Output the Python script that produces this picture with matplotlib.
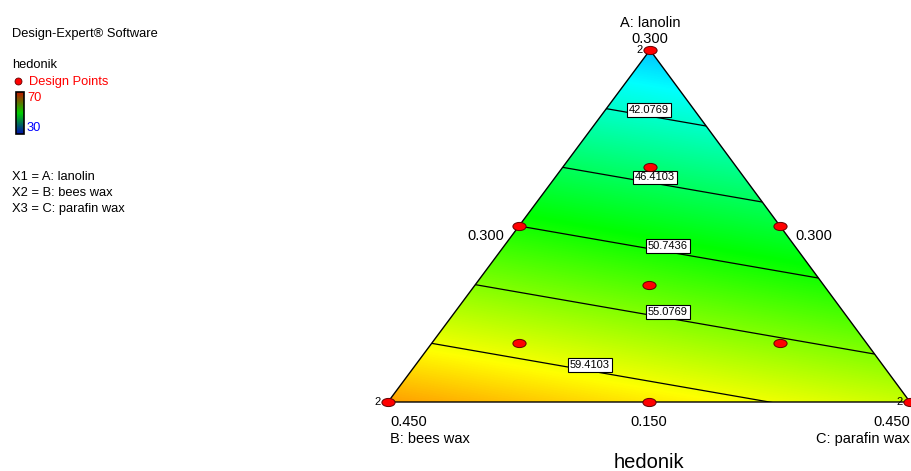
import numpy as np
import matplotlib
matplotlib.use("Agg")
import matplotlib.pyplot as plt
from matplotlib.colors import LinearSegmentedColormap
from matplotlib.patches import Polygon
from matplotlib.path import Path
from matplotlib.transforms import Affine2D

plt.rcParams['font.family'] = ['Liberation Sans', 'DejaVu Sans']

# ---- mixture design: components, bounds and labels ----
component_names = ["A: lanolin", "B: bees wax", "C: parafin wax"]
lower_bounds = [0.0, 0.15, 0.15]
mix_range = 0.30
vertex_values = ["0.300", "0.450", "0.450"]
edge_values = ["0.300", "0.300", "0.150"]          # A-B edge, A-C edge, B-C edge

# ---- fitted linear (Scheffe) model for hedonik, pseudo-component scale ----
model_coef = [37.7436, 63.7436, 57.81]
contour_levels = [42.0769, 46.4103, 50.7436, 55.0769, 59.4103]
color_min, color_max = 30, 70

# ---- design points (actual amounts) ----
design_A = [0.30, 0.00, 0.00, 0.15, 0.15, 0.00, 0.10, 0.20, 0.05, 0.05]
design_B = [0.15, 0.45, 0.15, 0.30, 0.15, 0.30, 0.25, 0.20, 0.35, 0.20]
design_C = [0.15, 0.15, 0.45, 0.15, 0.30, 0.30, 0.25, 0.20, 0.20, 0.35]
design_reps = [2, 2, 2, 1, 1, 1, 1, 1, 1, 1]

# ---- figure in pixel coordinates ----
W, H = 912, 471
fig = plt.figure(figsize=(W / 100, H / 100), dpi=100)
ax = fig.add_axes([0, 0, 1, 1])

# triangle corners: A (top), B (bottom-left), C (bottom-right)
corners = np.array([[650.0, 50.0], [388.0, 402.0], [910.0, 402.0]])

def pseudo(A, B, C):
    A, B, C = (np.asarray(v, float) for v in (A, B, C))
    return ((A - lower_bounds[0]) / mix_range,
            (B - lower_bounds[1]) / mix_range,
            (C - lower_bounds[2]) / mix_range)

def to_xy(a, b, c):
    x = a * corners[0, 0] + b * corners[1, 0] + c * corners[2, 0]
    y = a * corners[0, 1] + b * corners[1, 1] + c * corners[2, 1]
    return x, y

T = np.array([[corners[0, 0] - corners[2, 0], corners[1, 0] - corners[2, 0]],
              [corners[0, 1] - corners[2, 1], corners[1, 1] - corners[2, 1]]])
Tinv = np.linalg.inv(T)

def to_bary(x, y):
    dx = x - corners[2, 0]
    dy = y - corners[2, 1]
    a = Tinv[0, 0] * dx + Tinv[0, 1] * dy
    b = Tinv[1, 0] * dx + Tinv[1, 1] * dy
    return a, b, 1 - a - b

def model(a, b, c):
    return model_coef[0] * a + model_coef[1] * b + model_coef[2] * c

cmap = LinearSegmentedColormap.from_list(
    "de", ["#0000ff", "#00ffff", "#00ff00", "#ffff00", "#ff0000"])
legend_cmap = LinearSegmentedColormap.from_list(
    "de_key", ["#0010b0", "#00d000", "#c01800"])

# ---- response surface ----
xs = np.linspace(384, 914, 900)
ys = np.linspace(46, 406, 620)
X, Y = np.meshgrid(xs, ys)
Z = model(*to_bary(X, Y))

tri_patch = Polygon(corners, closed=True, transform=ax.transData)
im = ax.imshow(Z, extent=(xs[0], xs[-1], ys[0], ys[-1]), origin='lower',
               cmap=cmap, vmin=color_min, vmax=color_max,
               interpolation='bilinear', aspect='auto', zorder=1)
im.set_clip_path(tri_patch)

cs = ax.contour(X, Y, Z, levels=contour_levels, colors='k', linewidths=0.9, zorder=2)
cs.set_clip_path(tri_patch)

ax.add_patch(Polygon(corners, closed=True, fill=False, edgecolor='k', lw=1.0, zorder=3))

# contour labels, placed along each line
label_x = [649, 655, 668, 668, 590]
coef_x = (model(*to_bary(1.0, 0.0)) - model(*to_bary(0.0, 0.0)))
coef_y = (model(*to_bary(0.0, 1.0)) - model(*to_bary(0.0, 0.0)))
z0 = model(*to_bary(0.0, 0.0))
for lev, lx in zip(contour_levels, label_x):
    ly = (lev - z0 - coef_x * lx) / coef_y
    ax.text(lx, ly - 6, f"{lev:.4f}", fontsize=8, ha='center', va='center', zorder=5,
            bbox=dict(boxstyle='square,pad=0.15', fc='white', ec='black', lw=0.8))

# ---- design points ----
ell = Path.unit_circle().transformed(Affine2D().scale(1.0, 0.62))
pa, pb, pc = pseudo(design_A, design_B, design_C)
px, py = to_xy(pa, pb, pc)
ax.plot(px, py, linestyle='none', marker=ell, markersize=9.5,
        markerfacecolor='#ff0000', markeredgecolor='#600000',
        markeredgewidth=0.7, zorder=6, clip_on=False)
for x, y, r in zip(px, py, design_reps):
    if r > 1:
        ax.text(x - 7, y, str(r), fontsize=8, ha='right', va='center', zorder=7)

# ---- axis labels ----
ax.text(corners[0, 0], corners[0, 1] - 27, component_names[0], fontsize=10.5,
        ha='center', va='center')
ax.text(corners[0, 0], corners[0, 1] - 11, vertex_values[0], fontsize=10.5,
        ha='center', va='center')
ax.text(corners[1, 0] + 2, corners[1, 1] + 20, vertex_values[1], fontsize=10.5,
        ha='left', va='center')
ax.text(corners[1, 0] + 2, corners[1, 1] + 37, component_names[1], fontsize=10.5,
        ha='left', va='center')
ax.text(corners[2, 0], corners[2, 1] + 20, vertex_values[2], fontsize=10.5,
        ha='right', va='center')
ax.text(corners[2, 0], corners[2, 1] + 37, component_names[2], fontsize=10.5,
        ha='right', va='center')

mid_ab = (corners[0] + corners[1]) / 2
mid_ac = (corners[0] + corners[2]) / 2
mid_bc = (corners[1] + corners[2]) / 2
ax.text(mid_ab[0] - 15, mid_ab[1] + 10, edge_values[0], fontsize=10.5, ha='right', va='center')
ax.text(mid_ac[0] + 15, mid_ac[1] + 10, edge_values[1], fontsize=10.5, ha='left', va='center')
ax.text(mid_bc[0], mid_bc[1] + 20, edge_values[2], fontsize=10.5, ha='center', va='center')

ax.text(mid_bc[0], 462, "hedonik", fontsize=14.5, ha='center', va='center')

# ---- legend panel ----
ax.text(12, 34, "Design-Expert\u00ae Software", fontsize=9.3, ha='left', va='center')
ax.text(12, 65, "hedonik", fontsize=9.3, ha='left', va='center')
ax.plot([18], [81], linestyle='none', marker='o', markersize=5,
        markerfacecolor='#ff0000', markeredgecolor='#600000', markeredgewidth=0.6)
ax.text(29, 82, "Design Points", fontsize=9.3, color='#ff0000', ha='left', va='center')
bar = np.linspace(color_max, color_min, 100).reshape(-1, 1)
ax.imshow(bar, extent=(16, 24, 134, 92), origin='upper', cmap=legend_cmap,
          vmin=color_min, vmax=color_max, aspect='auto', interpolation='bilinear')
ax.add_patch(plt.Rectangle((16, 92), 8, 42, fill=False, ec='black', lw=1.2))
ax.text(27, 98, str(color_max), fontsize=9.3, color='#ff0000', ha='left', va='center')
ax.text(27, 128, str(color_min), fontsize=9.3, color='#0000ff', ha='left', va='center')
for i, (key, name) in enumerate(zip(["X1", "X2", "X3"], component_names)):
    ax.text(12, 177 + 16 * i, f"{key} = {name}", fontsize=9.3, ha='left', va='center')

ax.set_xlim(0, W)
ax.set_ylim(H, 0)
ax.axis('off')
fig.savefig("out.png", dpi=100)
